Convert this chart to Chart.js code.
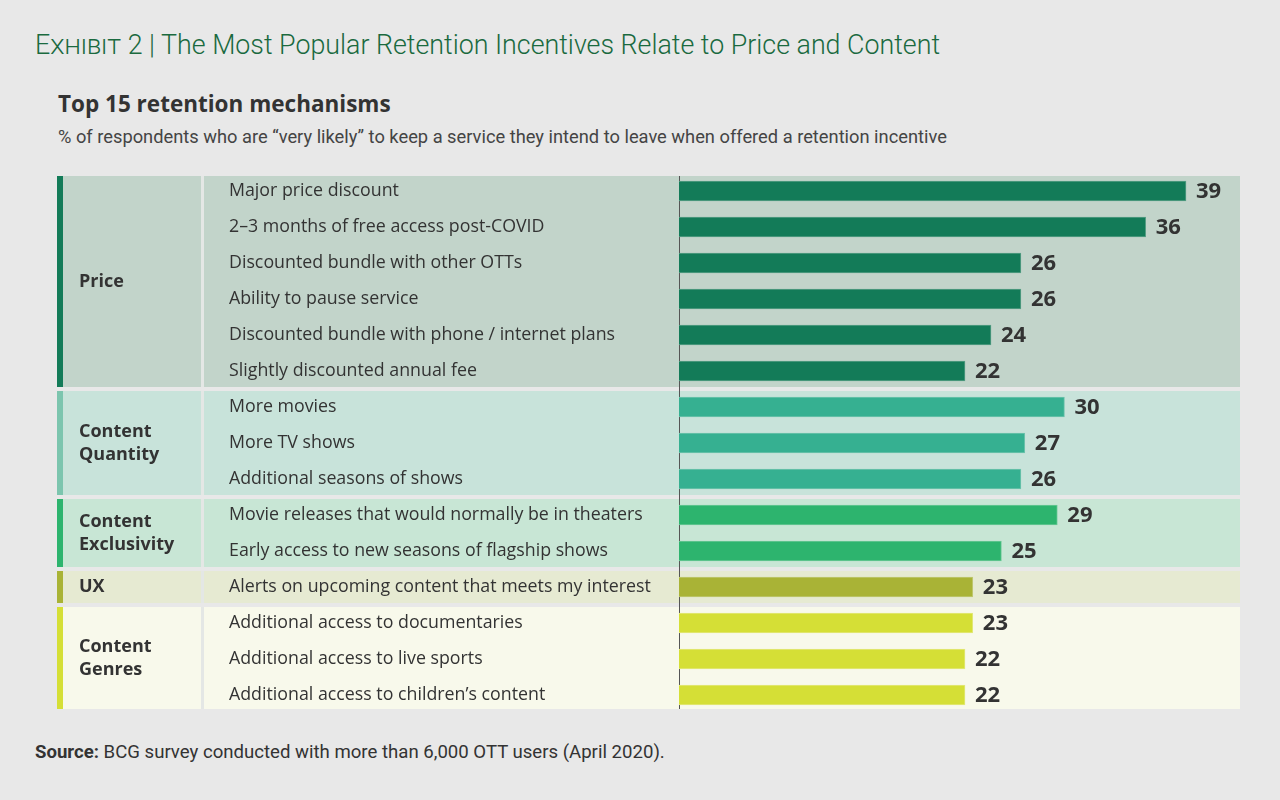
<!DOCTYPE html>
<html>
<head>
<meta charset="utf-8">
<script src="https://cdn.jsdelivr.net/npm/chart.js@4.4.0/dist/chart.umd.min.js"></script>
<style>
  html, body { margin: 0; padding: 0; background: #e8e8e8; }
  body { width: 1280px; height: 800px; position: relative; overflow: hidden; font-family: Roboto, sans-serif; }
  #chart { position: absolute; left: 0; top: 0; }
  .txt { position: absolute; white-space: nowrap; }
  #title { left: 35px; top: 29px; font-size: 26.8px; color: #1a6a3f; font-weight: 300; }
  #title .sc { font-variant: small-caps; }
  #heading { left: 58px; top: 88px; font-size: 22.5px; font-weight: 700; color: #333; font-family: "Open Sans", sans-serif; }
  #sub { left: 58px; top: 126px; font-size: 18.3px; color: #444; }
  #source { left: 35px; top: 741px; font-size: 18.6px; color: #333; }
</style>
</head>
<body>
<div class="txt" id="title"><span class="sc">Exhibit</span> 2 | The Most Popular Retention Incentives Relate to Price and Content</div>
<div class="txt" id="heading">Top 15 retention mechanisms</div>
<div class="txt" id="sub">% of respondents who are “very likely” to keep a service they intend to leave when offered a retention incentive</div>
<div class="txt" id="source"><b>Source:</b> BCG survey conducted with more than 6,000 OTT users (April 2020).</div>
<canvas id="chart" width="1280" height="800"></canvas>
<script>
const items = [
  "Major price discount",
  "2–3 months of free access post-COVID",
  "Discounted bundle with other OTTs",
  "Ability to pause service",
  "Discounted bundle with phone / internet plans",
  "Slightly discounted annual fee",
  "More movies",
  "More TV shows",
  "Additional seasons of shows",
  "Movie releases that would normally be in theaters",
  "Early access to new seasons of flagship shows",
  "Alerts on upcoming content that meets my interest",
  "Additional access to documentaries",
  "Additional access to live sports",
  "Additional access to children’s content"
];
// bar lengths; printed labels are the rounded figures
const values = [39.0, 35.9, 26.3, 26.3, 24.0, 22.0, 29.65, 26.6, 26.3, 29.1, 24.8, 22.6, 22.6, 22.0, 22.0];
const valueLabels = [39, 36, 26, 26, 24, 22, 30, 27, 26, 29, 25, 23, 23, 22, 22];
const groupNames = [["Price"], ["Content", "Quantity"], ["Content", "Exclusivity"], ["UX"], ["Content", "Genres"]];
const groupSizes = [6, 3, 2, 1, 3];
const groupBar = ["#137b58", "#36b091", "#2db46e", "#a9b336", "#d5df36"];
const groupBarEdge = ["#599f86", "#70c4ae", "#6bc897", "#c1c974", "#e3e97e"];
const groupStrip = ["#137b58", "#7cc5ae", "#2db46e", "#a9b336", "#d5df36"];
const groupBg = ["#c2d4ca", "#c8e3da", "#c8e6d5", "#e6ead2", "#f8f9eb"];

const barGroup = [];
groupSizes.forEach((n, g) => { for (let i = 0; i < n; i++) barGroup.push(g); });

const tableLeft = 57, labelCellRight = 201, itemCellLeft = 204, tableRight = 1240, axisX = 679;

const backdrop = {
  id: "backdrop",
  beforeDraw(chart) {
    const ctx = chart.ctx;
    const y = chart.scales.y;
    let start = 0;
    ctx.save();
    groupSizes.forEach((n, g) => {
      const first = start, last = start + n - 1;
      const cFirst = y.getPixelForValue(first), cLast = y.getPixelForValue(last);
      const top = first === 0 ? cFirst - 15 : (y.getPixelForValue(first - 1) + cFirst) / 2 + 2;
      const bottom = last === items.length - 1 ? cLast + 14 : (cLast + y.getPixelForValue(last + 1)) / 2 - 2;
      ctx.fillStyle = groupBg[g];
      ctx.fillRect(tableLeft, top, labelCellRight - tableLeft, bottom - top);
      ctx.fillRect(itemCellLeft, top, tableRight - itemCellLeft, bottom - top);
      ctx.fillStyle = "#e4e7e5";
      ctx.fillRect(labelCellRight, top, itemCellLeft - labelCellRight, bottom - top);
      ctx.fillStyle = groupStrip[g];
      ctx.fillRect(tableLeft, top, 6, bottom - top);
      // group label
      ctx.fillStyle = "#333";
      ctx.font = "bold 18px 'Open Sans', sans-serif";
      ctx.textBaseline = "middle";
      ctx.textAlign = "left";
      const mid = (top + bottom) / 2;
      const lines = groupNames[g];
      const lh = 23;
      lines.forEach((t, i) => {
        ctx.fillText(t, 79, mid + (i - (lines.length - 1) / 2) * lh);
      });
      start += n;
    });
    const top0 = y.getPixelForValue(0) - 15;
    const bot0 = y.getPixelForValue(items.length - 1) + 14;
    ctx.strokeStyle = "#555";
    ctx.lineWidth = 1;
    ctx.beginPath();
    ctx.moveTo(axisX + 0.5, top0);
    ctx.lineTo(axisX + 0.5, bot0);
    ctx.stroke();
    ctx.restore();
  },
  afterDatasetsDraw(chart) {
    const ctx = chart.ctx;
    const meta = chart.getDatasetMeta(0);
    ctx.save();
    ctx.fillStyle = "#333";
    ctx.font = "bold 22px 'Open Sans', sans-serif";
    ctx.textBaseline = "middle";
    ctx.textAlign = "left";
    meta.data.forEach((bar, i) => {
      ctx.fillText(valueLabels[i], bar.x + 10, bar.y + 1);
    });
    ctx.restore();
  }
};

new Chart(document.getElementById("chart"), {
  type: "bar",
  data: {
    labels: items,
    datasets: [{
      data: values,
      backgroundColor: barGroup.map(g => groupBar[g]),
      borderColor: barGroup.map(g => groupBarEdge[g]),
      borderWidth: 1,
      borderSkipped: "start",
      barThickness: 20
    }]
  },
  options: {
    indexAxis: "y",
    responsive: false,
    animation: false,
    layout: { padding: { left: 229, right: 42, top: 173, bottom: 87 } },
    plugins: { legend: { display: false }, tooltip: { enabled: false } },
    scales: {
      x: { min: 0, max: 43, display: false },
      y: {
        grid: { display: false },
        border: { display: false },
        ticks: {
          crossAlign: "far",
          padding: 0,
          color: "#333",
          font: { family: "'Open Sans', sans-serif", size: 17.8 }
        },
        afterFit(scale) { scale.width = axisX - 229; }
      }
    }
  },
  plugins: [backdrop]
});
</script>
</body>
</html>
